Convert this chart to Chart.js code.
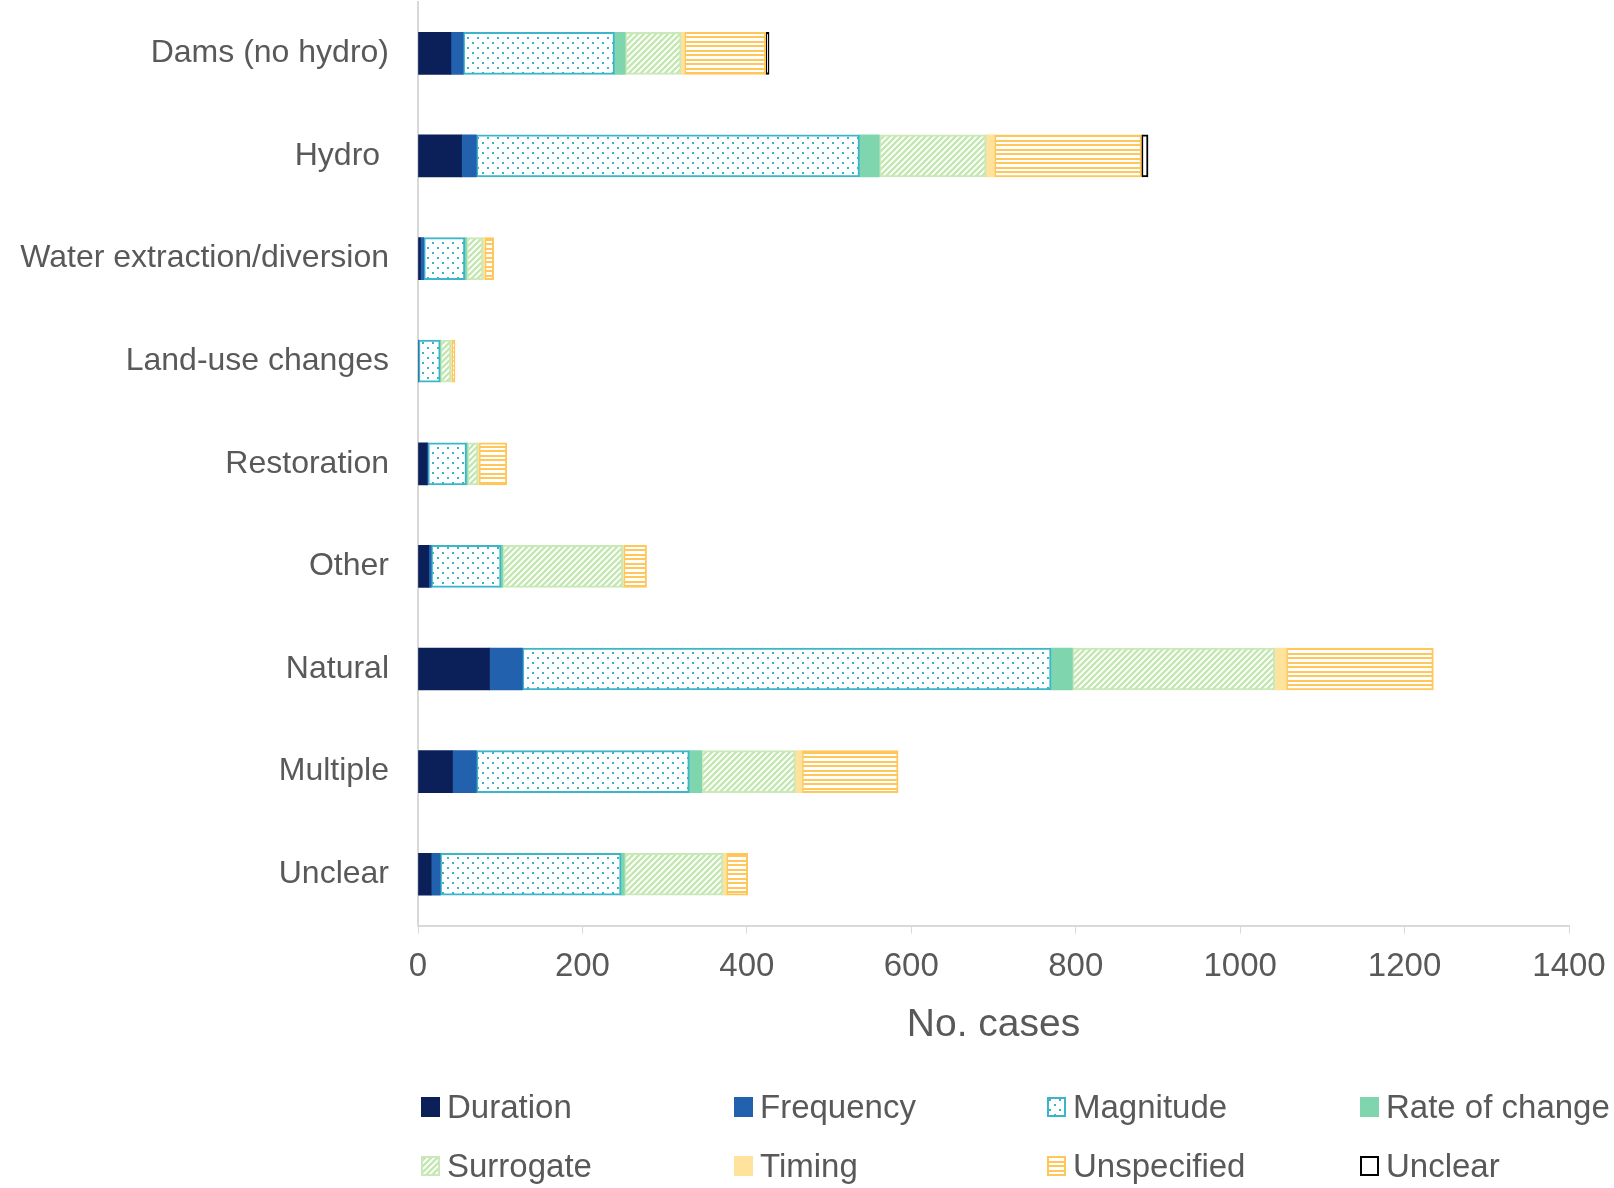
<!DOCTYPE html>
<html>
<head>
<meta charset="utf-8">
<script src="https://cdn.jsdelivr.net/npm/chart.js@4.4.1/dist/chart.umd.min.js"></script>
<style>
  body { margin: 0; background: #fff; }
  #wrap { position: relative; width: 1614px; height: 1188px; }
  .item { position: absolute; height: 40px; display: flex; align-items: center; font: 33px "Liberation Sans", Arial, sans-serif; color: #595959; white-space: nowrap; }
  .item canvas { margin-right: 7px; }
</style>
</head>
<body>
<div id="wrap">
  <canvas id="chart" width="1614" height="1188"></canvas>
  <div id="legend"></div>
</div>
<script>
// categories (top to bottom) and series names
const categories = ['Dams (no hydro)', 'Hydro ', 'Water extraction/diversion', 'Land-use changes', 'Restoration', 'Other', 'Natural', 'Multiple', 'Unclear']
const seriesNames = ['Duration', 'Frequency', 'Magnitude', 'Rate of change', 'Surrogate', 'Timing', 'Unspecified', 'Unclear']

// no. cases per category, one array per series
const duration    = [40, 53, 3, 0, 11, 13, 87, 42, 16]
const frequency   = [15, 18, 4, 0, 1, 3, 40, 29, 11]
const magnitude   = [184, 466, 50, 27, 47, 85, 643, 259, 220]
const rateChange  = [13, 24, 2, 0, 1, 2, 26, 15, 4]
const surrogate   = [68, 130, 20, 13, 13, 146, 246, 114, 120]
const timing      = [4, 10, 2, 1, 1, 1, 14, 8, 4]
const unspecified = [99, 179, 11, 4, 34, 28, 179, 117, 26]
const unclear     = [4, 8, 0, 0, 0, 0, 0, 0, 0]

const seriesValues = [duration, frequency, magnitude, rateChange, surrogate, timing, unspecified, unclear]

// x axis ticks
const xMin = 0
const xMax = 1400
const xStep = 200

const textColor = '#595959'
const fontFamily = '"Liberation Sans", Arial, sans-serif'

// pattern tiles
function makeTile(w, h, draw){
    const c = document.createElement('canvas')
    c.width = w
    c.height = h
    const g = c.getContext('2d')
    g.fillStyle = '#fff'
    g.fillRect(0, 0, w, h)
    draw(g)
    return c
}

const dotTile = makeTile(10, 10, g => {
    g.fillStyle = '#38b4c9'
    g.fillRect(2, 2, 2, 2)
    g.fillRect(7, 7, 2, 2)
})
const diagTile = makeTile(6, 6, g => {
    g.strokeStyle = '#c4e7b1'
    g.lineWidth = 2.4
    g.beginPath()
    g.moveTo(-1, 7); g.lineTo(7, -1)
    g.moveTo(-4, 4); g.lineTo(4, -4)
    g.moveTo(2, 10); g.lineTo(10, 2)
    g.stroke()
})
const stripeTile = makeTile(4, 9, g => {
    g.fillStyle = '#ffc659'
    g.fillRect(0, 0, 4, 2)
    g.fillRect(0, 5, 4, 2)
})

// fill / border for each series; tile means a pattern
const seriesStyles = [
    {color: '#0b1f58', border: '#0b1f58', width: 0},
    {color: '#2161ad', border: '#2161ad', width: 0},
    {tile: dotTile, border: '#3cb5c9', width: 2},
    {color: '#7fd6ae', border: '#7fd6ae', width: 0},
    {tile: diagTile, border: '#c9e9b8', width: 2},
    {color: '#ffe29b', border: '#ffe29b', width: 0},
    {tile: stripeTile, border: '#ffc659', width: 2},
    {color: '#ffffff', border: '#000000', width: 2}
]

const ctx = document.getElementById('chart').getContext('2d')

function fillFor(style, context){
    return style.tile ? context.createPattern(style.tile, 'repeat') : style.color
}

const datasets = seriesNames.map((name, i) => ({
    label: name,
    data: seriesValues[i],
    backgroundColor: fillFor(seriesStyles[i], ctx),
    borderColor: seriesStyles[i].border,
    borderWidth: seriesStyles[i].width,
    borderSkipped: false,
    barThickness: 42
}))

new Chart(ctx, {
    type: 'bar',
    data: {
        labels: categories,
        datasets: datasets
    },
    options: {
        indexAxis: 'y',
        responsive: false,
        animation: false,
        events: [],
        layout: { padding: { top: 2, right: 45, bottom: 139, left: 0 } },
        plugins: {
            legend: { display: false },
            tooltip: { enabled: false }
        },
        scales: {
            x: {
                stacked: true,
                min: xMin,
                max: xMax,
                ticks: { stepSize: xStep, color: textColor, font: { family: fontFamily, size: 33 }, padding: 14, maxRotation: 0, callback: v => String(v) },
                grid: { drawOnChartArea: false, drawTicks: true, tickLength: 8, color: '#d9d9d9' },
                border: { display: true, color: '#d9d9d9', width: 2 },
                title: { display: true, text: 'No. cases', color: textColor, font: { family: fontFamily, size: 39 }, padding: { top: 1, bottom: 0 } },
                afterFit: scale => {
                    scale.paddingLeft = 0
                    scale.paddingRight = 0
                }
            },
            y: {
                stacked: true,
                ticks: { color: textColor, font: { family: fontFamily, size: 32 }, padding: 21 },
                grid: { display: false },
                border: { display: true, color: '#d9d9d9', width: 2 },
                afterFit: scale => {
                    scale.width = 418
                    scale.paddingTop = 0
                    scale.paddingBottom = 0
                }
            }
        }
    }
})

// legend in a four column grid below the chart
const legend = document.getElementById('legend')
seriesNames.forEach((name, i) => {
    const item = document.createElement('div')
    item.className = 'item'
    item.style.left = (421 + (i % 4) * 313) + 'px'
    item.style.top = ((i < 4 ? 1107 : 1166) - 20) + 'px'
    const sw = document.createElement('canvas')
    sw.width = 19
    sw.height = 20
    const g = sw.getContext('2d')
    const st = seriesStyles[i]
    g.fillStyle = fillFor(st, g)
    g.fillRect(0, 0, 19, 20)
    if (st.width > 0) {
        g.strokeStyle = st.border
        g.lineWidth = 2
        g.strokeRect(1, 1, 17, 18)
    }
    const label = document.createElement('span')
    label.textContent = name
    item.appendChild(sw)
    item.appendChild(label)
    legend.appendChild(item)
})
</script>
</body>
</html>
